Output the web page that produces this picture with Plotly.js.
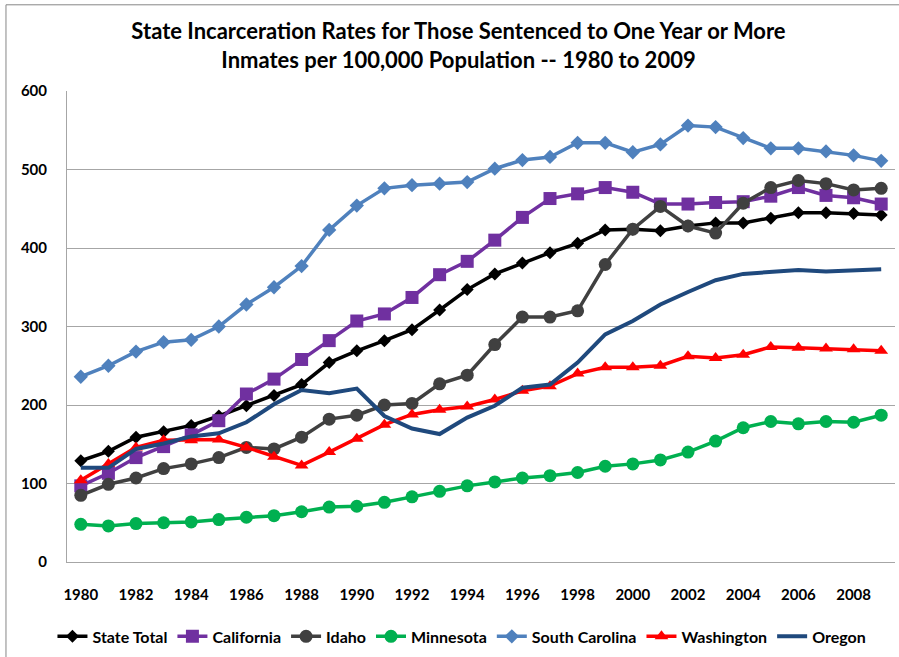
<!DOCTYPE html>
<html>
<head>
<meta charset="utf-8">
<script src="https://cdn.plot.ly/plotly-3.0.1.min.js"></script>
<style>html,body{margin:0;padding:0;background:#fff;}#chart{width:899px;height:657px;}</style>
</head>
<body>
<div id="chart"></div>
<script>
const years = [1980,1981,1982,1983,1984,1985,1986,1987,1988,1989,1990,1991,1992,1993,1994,1995,1996,1997,1998,1999,2000,2001,2002,2003,2004,2005,2006,2007,2008,2009];
const stateTotal = [129,141,159,166,174,186,199,212,226,254,269,282,296,321,347,367,381,394,406,423,424,422,428,432,432,438,445,445,444,442];
const california = [97,113,133,147,162,180,214,233,258,282,307,316,337,366,383,410,439,463,469,477,471,456,456,458,459,466,477,467,464,456];
const idaho = [85,99,107,119,125,133,146,144,159,182,187,200,202,227,238,277,312,312,320,379,424,453,428,419,457,477,486,482,474,476];
const minnesota = [48,46,49,50,51,54,57,59,64,70,71,76,83,90,97,102,107,110,114,122,125,130,140,154,171,179,176,179,178,187];
const southCarolina = [236,250,268,280,283,300,328,350,377,423,454,476,480,482,484,501,512,516,534,534,522,532,556,554,540,527,527,523,518,511];
const washington = [104,125,146,155,155,156,146,134,123,140,157,175,188,194,198,207,218,224,240,248,248,250,262,260,264,274,273,272,271,269];
const oregon = [120,120,144,151,160,164,178,201,219,215,221,186,170,163,184,199,222,226,254,290,307,328,344,359,367,369,372,370,372,373];

const seriesNames = ["State Total","California","Idaho","Minnesota","South Carolina","Washington","Oregon"];
const seriesData = [stateTotal, california, idaho, minnesota, southCarolina, washington, oregon];
const colors = ["#000000","#7030A0","#404040","#00B050","#4F81BD","#FF0000","#1F497D"];
const symbols = ["diamond","square","circle","circle","diamond","triangle-up",null];
const msizes = [10,13,13,13,11,12,0];
const lwidths = [3.5,3.5,3.5,3.5,3.5,3.5,4];

const traces = seriesNames.map((n,i)=>{
  const t = {
    x: years, y: seriesData[i], name: n, type: 'scatter',
    mode: symbols[i] ? 'lines+markers' : 'lines',
    line: {color: colors[i], width: lwidths[i]},
    cliponaxis: false
  };
  if (symbols[i]) t.marker = {symbol: symbols[i], size: msizes[i], color: colors[i]};
  return t;
});

const tickYears = years.filter(y => y % 2 === 0);
const FONT = 'Lato, Calibri, Arial, sans-serif';

const layout = {
  width: 899, height: 657,
  margin: {l: 67, r: 4, t: 91, b: 91},
  paper_bgcolor: '#ffffff', plot_bgcolor: '#ffffff',
  font: {family: FONT, color: '#000'},
  title: {
    text: '<b>State Incarceration Rates for Those Sentenced to One Year or More<br>Inmates per 100,000 Population -- 1980 to 2009</b>',
    font: {size: 22, family: FONT, color: '#000'},
    x: 0.51, xanchor: 'center', y: 0.94, yanchor: 'top'
  },
  xaxis: {
    range: [1979.5, 2009.5],
    tickmode: 'array', tickvals: tickYears, ticktext: tickYears.map(String),
    showgrid: false, zeroline: false,
    showline: true, linecolor: '#a6a6a6', linewidth: 1,
    ticks: '', tickfont: {size: 15, family: FONT, color: '#000', weight: 'bold'},
    ticklabelstandoff: 19
  },
  yaxis: {
    range: [0, 600], dtick: 100,
    showgrid: true, gridcolor: '#a6a6a6', gridwidth: 1,
    zeroline: false, showline: true, linecolor: '#a6a6a6', linewidth: 1,
    ticks: '', tickfont: {size: 15, family: FONT, color: '#000', weight: 'bold'},
    ticklabelstandoff: 16
  },
  legend: {
    orientation: 'h', x: 0.477, xanchor: 'center', y: -0.122, yanchor: 'top',
    font: {size: 16, family: FONT, color: '#000', weight: 'bold'},
    itemwidth: 30, tracegroupgap: 0
  },
  shapes: [{type:'rect', xref:'paper', yref:'paper', x0:-0.0737, x1:1.01, y0:-0.21, y1:1.183,
            line:{color:'#868686', width:1}}],
  showlegend: true
};

Plotly.newPlot('chart', traces, layout, {displayModeBar: false, staticPlot: true});
</script>
</body>
</html>
